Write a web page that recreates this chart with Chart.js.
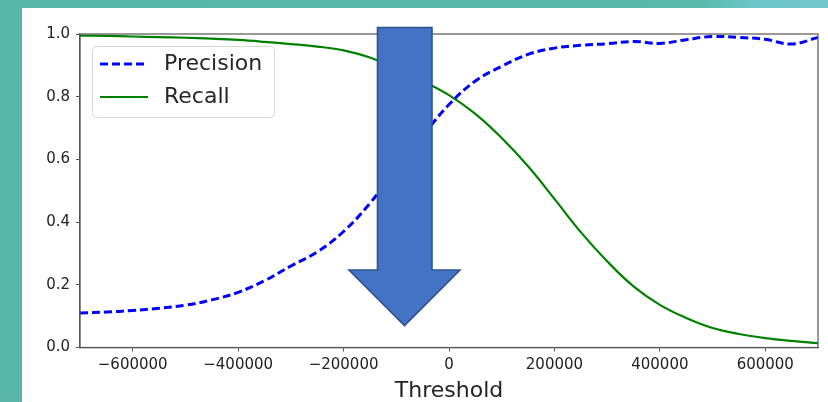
<!DOCTYPE html>
<html>
<head>
<meta charset="utf-8">
<script src="https://cdn.jsdelivr.net/npm/chart.js@4"></script>
<style>
  html, body { margin: 0; padding: 0; }
  body {
    width: 828px; height: 402px; overflow: hidden; position: relative;
    background: linear-gradient(100deg, #57b7a8 0%, #5ab9ab 78%, #6cc5c7 84%, #74c9cb 100%);
  }
  .panel {
    position: absolute; left: 22px; top: 8px; width: 806px; height: 394px;
    background: #fff;
  }
  #arrow { position: absolute; left: 0; top: 0; pointer-events: none; }
</style>
</head>
<body>
<div class="panel"><canvas id="chart" width="806" height="394"></canvas></div>
<svg id="arrow" width="828" height="402">
  <polygon points="377.5,27.5 432,27.5 432,270 460,270 404.5,325.5 349,270 377.5,270"
    fill="#4472c4" stroke="#2f528f" stroke-width="1.6" stroke-linejoin="miter"/>
</svg>
<script>
const thresholds = [
    -700000, -650000, -600000, -550000, -500000, -450000, -400000, -350000, -300000, -250000,
    -200000, -150000, -100000, -50000, 0, 50000, 100000, 150000, 200000, 250000,
    300000, 350000, 400000, 450000, 500000, 550000, 600000, 650000, 700000
];
const precision = [
    0.110, 0.113, 0.118, 0.125, 0.135, 0.152, 0.176, 0.213, 0.260, 0.305,
    0.370, 0.460, 0.570, 0.675, 0.775, 0.850, 0.897, 0.935, 0.955, 0.964,
    0.969, 0.976, 0.970, 0.982, 0.992, 0.989, 0.983, 0.968, 0.989
];
const recall = [
    0.995, 0.994, 0.992, 0.990, 0.988, 0.985, 0.981, 0.975, 0.968, 0.960,
    0.948, 0.925, 0.890, 0.850, 0.805, 0.745, 0.668, 0.578, 0.474, 0.368,
    0.275, 0.195, 0.136, 0.094, 0.062, 0.043, 0.030, 0.021, 0.014
];
const xTicks = [-600000, -400000, -200000, 0, 200000, 400000, 600000];
const yTicks = [0, 0.2, 0.4, 0.6, 0.8, 1.0];

const FONT = "'DejaVu Sans', sans-serif";

// frame on all four sides + legend inside the axes (matplotlib style)
const frameAndLegend = {
    id: "frameAndLegend",
    afterDraw(chart) {
        const ctx = chart.ctx;
        const a = chart.chartArea;
        ctx.save();
        ctx.strokeStyle = "#555";
        ctx.lineWidth = 1.2;
        ctx.strokeRect(a.left, a.top, a.right - a.left, a.bottom - a.top);

        // legend box
        const bx = 70, by = 38, bw = 182, bh = 71;
        ctx.beginPath();
        ctx.roundRect(bx + 0.5, by + 0.5, bw, bh, 4);
        ctx.fillStyle = "rgba(255,255,255,0.85)";
        ctx.fill();
        ctx.strokeStyle = "#d8d8d8";
        ctx.lineWidth = 1;
        ctx.stroke();

        ctx.font = "22px " + FONT;
        ctx.textBaseline = "middle";
        chart.data.datasets.forEach((ds, i) => {
            const y = by + 18 + i * 33;
            ctx.beginPath();
            ctx.setLineDash(ds.borderDash || []);
            ctx.strokeStyle = ds.borderColor;
            ctx.lineWidth = ds.borderWidth;
            ctx.moveTo(bx + 8, y);
            ctx.lineTo(bx + 56, y);
            ctx.stroke();
            ctx.setLineDash([]);
            ctx.fillStyle = "#262626";
            ctx.fillText(ds.label, bx + 72, y);
        });
        ctx.restore();
    }
};

const chart = document.querySelector("#chart").getContext("2d");

new Chart(chart, {
    type: "line",
    data: {
        datasets: [
            {
                label: "Precision",
                data: thresholds.map((t, i) => ({ x: t, y: precision[i] })),
                borderColor: "#0000ff",
                borderWidth: 3,
                borderDash: [8, 4],
                pointRadius: 0,
                tension: 0.4
            },
            {
                label: "Recall",
                data: thresholds.map((t, i) => ({ x: t, y: recall[i] })),
                borderColor: "#008000",
                borderWidth: 2.2,
                pointRadius: 0,
                tension: 0.4
            }
        ]
    },
    options: {
        responsive: false,
        animation: false,
        layout: { padding: { top: 26, right: 10, left: 0, bottom: 0 } },
        plugins: { legend: { display: false }, tooltip: { enabled: false } },
        scales: {
            x: {
                type: "linear",
                min: -700000,
                max: 700000,
                afterFit: (s) => { s.height = 54.5; },
                afterBuildTicks: (s) => { s.ticks = xTicks.map(v => ({ value: v })); },
                grid: { drawOnChartArea: false, tickLength: 4, color: "#555", tickWidth: 1 },
                border: { color: "#555", width: 1.2 },
                ticks: {
                    autoSkip: false, maxRotation: 0, padding: 5, color: "#222",
                    font: { family: FONT, size: 15 },
                    callback: (v) => v < 0 ? "\u2212" + Math.abs(v) : String(v)
                },
                title: {
                    display: true, text: "Threshold", color: "#222",
                    font: { family: FONT, size: 22, lineHeight: 1 },
                    padding: { top: 0, bottom: 0 }
                }
            },
            y: {
                min: 0,
                max: 1,
                afterFit: (s) => { s.width = 58; },
                afterBuildTicks: (s) => { s.ticks = yTicks.map(v => ({ value: v })); },
                grid: { drawOnChartArea: false, tickLength: 4, color: "#555", tickWidth: 1 },
                border: { color: "#555", width: 1.2 },
                ticks: {
                    padding: 6, color: "#222",
                    font: { family: FONT, size: 15 },
                    callback: (v) => Number(v).toFixed(1)
                }
            }
        }
    },
    plugins: [frameAndLegend]
});
</script>
</body>
</html>
